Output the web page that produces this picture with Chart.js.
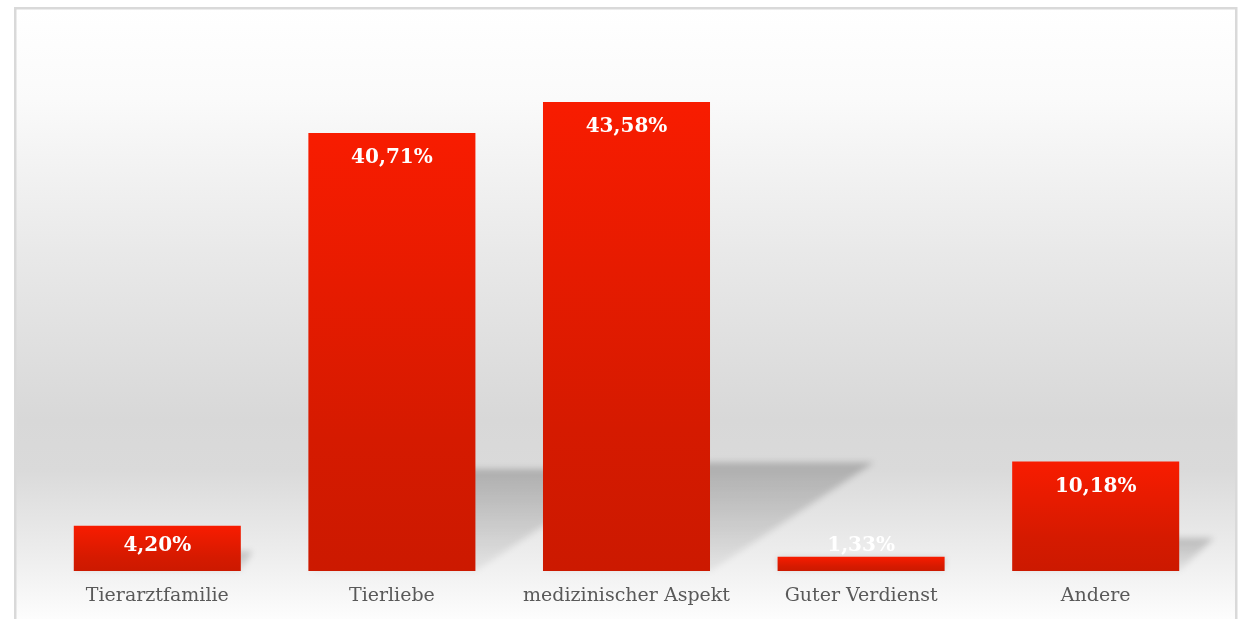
<!DOCTYPE html>
<html>
<head>
<meta charset="utf-8">
<script src="https://cdn.jsdelivr.net/npm/chart.js@4/dist/chart.umd.min.js"></script>
<style>
html,body{margin:0;padding:0;background:#ffffff;}
#wrap{position:relative;width:1238px;height:619px;}
canvas{display:block;}
</style>
</head>
<body>
<div id="wrap"><canvas id="c" width="1238" height="619"></canvas></div>
<script>
// ---- data ----
const categories = ["Tierarztfamilie", "Tierliebe", "medizinischer Aspekt", "Guter Verdienst", "Andere"];
const shares = [4.20, 40.71, 43.58, 1.33, 10.18];
const valueLabels = ["4,20%", "40,71%", "43,58%", "1,33%", "10,18%"];

const SERIF = '"DejaVu Serif", "Liberation Serif", serif';

const backgroundPlugin = {
  id: 'bgPanel',
  beforeDraw(chart) {
    const ctx = chart.ctx;
    const W = chart.width, H = chart.height;
    ctx.save();
    ctx.fillStyle = '#ffffff';
    ctx.fillRect(0, 0, W, H);
    const g = ctx.createLinearGradient(0, 8, 0, H);
    const stop = (y, c) => g.addColorStop(Math.min(1, Math.max(0, (y - 8) / (H - 8))), c);
    stop(8, '#ffffff');
    stop(100, '#fafafa');
    stop(250, '#e9e9e9');
    stop(420, '#d8d8d8');
    stop(470, '#dadada');
    stop(571, '#f1f1f1');
    stop(619, '#fdfdfd');
    ctx.fillStyle = g;
    ctx.fillRect(15, 8, 1221, H);
    ctx.strokeStyle = '#d9d9d9';
    ctx.lineWidth = 2.5;
    ctx.strokeRect(15.25, 8.25, 1221, H + 10);
    ctx.restore();
  }
};

const shadowPlugin = {
  id: 'barShadows',
  beforeDatasetsDraw(chart) {
    const ctx = chart.ctx;
    const meta = chart.getDatasetMeta(0);
    ctx.save();
    ctx.filter = 'blur(3px)';
    meta.data.forEach((bar) => {
      const h = bar.base - bar.y;
      const left = bar.x - bar.width / 2;
      const right = bar.x + bar.width / 2;
      const sh = h * 0.21 + 10;
      const dx = h * 0.36 - 5;
      const g = ctx.createLinearGradient(0, bar.base - sh, 0, bar.base);
      g.addColorStop(0, 'rgba(0,0,0,0.20)');
      g.addColorStop(1, 'rgba(0,0,0,0.05)');
      ctx.fillStyle = g;
      ctx.beginPath();
      ctx.moveTo(left, bar.base);
      ctx.lineTo(left + dx, bar.base - sh);
      ctx.lineTo(right + dx, bar.base - sh);
      ctx.lineTo(right, bar.base);
      ctx.closePath();
      ctx.fill();
    });
    ctx.restore();
  }
};

const labelPlugin = {
  id: 'valueLabels',
  afterDatasetsDraw(chart) {
    const ctx = chart.ctx;
    const meta = chart.getDatasetMeta(0);
    ctx.save();
    ctx.font = 'bold 20px ' + SERIF;
    ctx.fillStyle = '#ffffff';
    ctx.textAlign = 'center';
    ctx.textBaseline = 'middle';
    meta.data.forEach((bar, i) => {
      const cy = Math.min(bar.y + 25, bar.base - 25);
      ctx.fillText(valueLabels[i], bar.x, cy);
    });
    ctx.restore();
  }
};

new Chart(document.getElementById('c'), {
  type: 'bar',
  data: {
    labels: categories,
    datasets: [{
      data: shares,
      backgroundColor(context) {
        const chart = context.chart;
        const { chartArea, scales } = chart;
        if (!chartArea || !scales.y) return '#e81a00';
        const v = context.raw;
        const yTop = scales.y.getPixelForValue(v);
        const yBase = scales.y.getPixelForValue(0);
        if (!isFinite(yTop) || !isFinite(yBase) || yBase - yTop < 1) return '#e81a00';
        const g = chart.ctx.createLinearGradient(0, yTop, 0, yBase);
        g.addColorStop(0, '#f81c00');
        g.addColorStop(0.7, '#d51a00');
        g.addColorStop(1, '#cc1900');
        return g;
      },
      borderWidth: 0,
      categoryPercentage: 1.0,
      barPercentage: 0.712
    }]
  },
  options: {
    responsive: false,
    animation: false,
    devicePixelRatio: 1,
    layout: { padding: { top: 33, bottom: 14, left: 40, right: 25 } },
    plugins: {
      legend: { display: false },
      tooltip: { enabled: false },
      title: { display: false }
    },
    scales: {
      x: {
        grid: { display: false, drawTicks: false, tickLength: 0 },
        border: { display: false },
        afterFit(scale) { scale.height = 34; },
        ticks: {
          color: '#595959',
          font: { family: SERIF, size: 19 },
          padding: 14,
          maxRotation: 0,
          autoSkip: false
        }
      },
      y: {
        display: false,
        min: 0,
        max: 50
      }
    }
  },
  plugins: [backgroundPlugin, shadowPlugin, labelPlugin]
});
</script>
</body>
</html>
